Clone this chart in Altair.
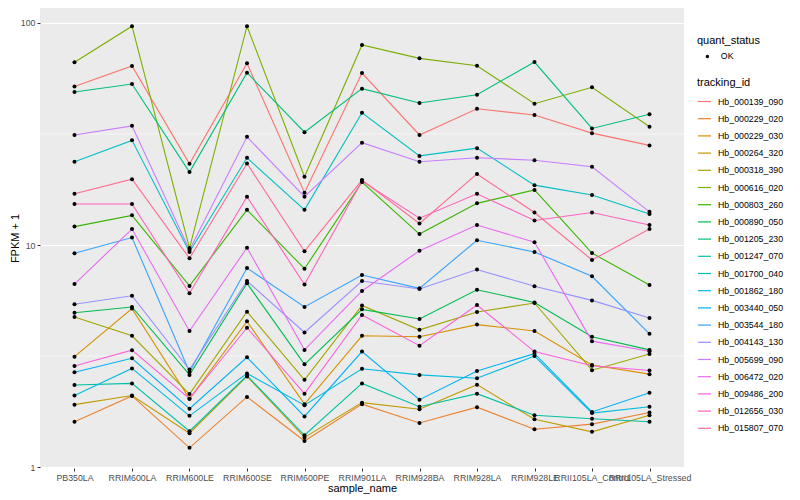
import altair as alt
import pandas as pd

samples = ["PB350LA", "RRIM600LA", "RRIM600LE", "RRIM600SE", "RRIM600PE",
           "RRIM901LA", "RRIM928BA", "RRIM928LA", "RRIM928LE",
           "RRII105LA_Control", "RRII105LA_Stressed"]

tracking_ids = ["Hb_000139_090", "Hb_000229_020", "Hb_000229_030", "Hb_000264_320",
                "Hb_000318_390", "Hb_000616_020", "Hb_000803_260", "Hb_000890_050",
                "Hb_001205_230", "Hb_001247_070", "Hb_001700_040", "Hb_001862_180",
                "Hb_003440_050", "Hb_003544_180", "Hb_004143_130", "Hb_005699_090",
                "Hb_006472_020", "Hb_009486_200", "Hb_012656_030", "Hb_015807_070"]

colors = ["#F8766D", "#EA8331", "#D89000", "#C09B00", "#A3A500", "#7CAE00", "#39B600",
          "#00BB4E", "#00BF7D", "#00C1A3", "#00BFC4", "#00BAE0", "#00B0F6", "#35A2FF",
          "#9590FF", "#C77CFF", "#E76BF3", "#FA62DB", "#FF62BC", "#FF6C91"]

# FPKM + 1 per sample, in the order of `samples`
Hb_000139_090 = [51.7, 64.0, 23.2, 65.8, 17.2, 59.5, 31.3, 41.1, 38.5, 31.9, 28.1]
Hb_000229_020 = [1.60, 2.09, 1.22, 2.07, 1.31, 1.92, 1.58, 1.86, 1.48, 1.56, 1.76]
Hb_000229_030 = [3.14, 5.17, 2.03, 4.53, 1.92, 3.90, 3.86, 4.38, 4.10, 2.88, 2.62]
Hb_000264_320 = [1.91, 2.10, 1.42, 2.56, 1.36, 1.95, 1.82, 2.35, 1.64, 1.44, 1.71]
Hb_000318_390 = [4.74, 3.90, 2.13, 5.01, 2.47, 5.34, 4.15, 4.99, 5.48, 2.73, 3.23]
Hb_000616_020 = [66.5, 96.7, 9.69, 96.7, 20.3, 79.6, 69.3, 64.2, 43.3, 51.3, 34.1]
Hb_000803_260 = [12.1, 13.6, 6.54, 14.4, 7.82, 19.2, 11.2, 15.4, 17.7, 9.20, 6.60]
Hb_000890_050 = [4.95, 5.26, 2.60, 6.72, 2.90, 5.13, 4.64, 6.29, 5.51, 3.86, 3.37]
Hb_001205_230 = [48.9, 53.1, 21.3, 59.7, 32.2, 50.6, 43.6, 47.5, 66.7, 33.5, 38.8]
Hb_001247_070 = [2.34, 2.38, 1.45, 2.58, 1.39, 2.38, 1.87, 2.14, 1.71, 1.65, 1.60]
Hb_001700_040 = [23.7, 29.6, 9.30, 24.7, 14.4, 39.4, 25.2, 27.3, 18.6, 16.8, 13.8]
Hb_001862_180 = [2.10, 2.78, 1.70, 2.64, 1.90, 2.77, 2.60, 2.51, 3.16, 1.75, 1.87]
Hb_003440_050 = [2.67, 3.09, 1.83, 3.12, 1.69, 3.31, 2.01, 2.71, 3.24, 1.77, 2.16]
Hb_003544_180 = [9.18, 10.8, 2.68, 7.88, 5.26, 7.32, 6.38, 10.5, 9.30, 7.23, 3.98]
Hb_004143_130 = [5.41, 5.91, 2.75, 6.88, 4.04, 6.88, 6.34, 7.76, 6.52, 5.63, 4.69]
Hb_005699_090 = [31.3, 34.4, 9.49, 30.7, 16.5, 28.9, 23.7, 24.7, 24.1, 22.5, 14.1]
Hb_006472_020 = [6.67, 11.8, 4.10, 9.72, 3.37, 6.21, 9.43, 12.3, 10.3, 3.69, 3.32]
Hb_009486_200 = [2.85, 3.36, 2.03, 4.24, 2.14, 4.84, 3.52, 5.37, 3.31, 2.86, 2.72]
Hb_012656_030 = [15.3, 15.3, 6.06, 16.5, 6.64, 19.4, 13.2, 17.0, 12.9, 14.0, 12.3]
Hb_015807_070 = [17.0, 19.8, 8.71, 23.3, 9.37, 19.6, 12.5, 20.9, 14.0, 8.56, 11.8]

series = {
    "Hb_000139_090": Hb_000139_090, "Hb_000229_020": Hb_000229_020,
    "Hb_000229_030": Hb_000229_030, "Hb_000264_320": Hb_000264_320,
    "Hb_000318_390": Hb_000318_390, "Hb_000616_020": Hb_000616_020,
    "Hb_000803_260": Hb_000803_260, "Hb_000890_050": Hb_000890_050,
    "Hb_001205_230": Hb_001205_230, "Hb_001247_070": Hb_001247_070,
    "Hb_001700_040": Hb_001700_040, "Hb_001862_180": Hb_001862_180,
    "Hb_003440_050": Hb_003440_050, "Hb_003544_180": Hb_003544_180,
    "Hb_004143_130": Hb_004143_130, "Hb_005699_090": Hb_005699_090,
    "Hb_006472_020": Hb_006472_020, "Hb_009486_200": Hb_009486_200,
    "Hb_012656_030": Hb_012656_030, "Hb_015807_070": Hb_015807_070,
}

y_breaks = [1, 10, 100]
y_minor_breaks = [3.162, 31.62]
y_limits = [0.99, 116.8]

rows = []
for tid in tracking_ids:
    for s, v in zip(samples, series[tid]):
        rows.append({"sample_name": s, "tracking_id": tid, "fpkm1": v, "quant_status": "OK"})
df = pd.DataFrame(rows)
minor_df = pd.DataFrame({"v": y_minor_breaks})

FONT = "Liberation Sans"

x_enc = alt.X("sample_name:N", sort=samples,
              scale=alt.Scale(type="point", padding=0.6),
              axis=alt.Axis(title="sample_name", labelAngle=0, labelOverlap=False,
                            labelPadding=2, titlePadding=1))
y_scale = alt.Scale(type="log", domain=y_limits, nice=False)
y_axis = alt.Axis(title="FPKM + 1", values=y_breaks, format="d",
                  labelPadding=2, titlePadding=0)

minor = alt.Chart(minor_df).mark_rule(color="white", strokeWidth=0.55).encode(
    y=alt.Y("v:Q", scale=y_scale, axis=y_axis)
)

lines = alt.Chart(df).mark_line(strokeWidth=1.1).encode(
    x=x_enc,
    y=alt.Y("fpkm1:Q", scale=y_scale, axis=y_axis),
    color=alt.Color("tracking_id:N",
                    scale=alt.Scale(domain=tracking_ids, range=colors),
                    legend=alt.Legend(title="tracking_id", orient="none",
                                      legendX=657, legendY=69,
                                      symbolType="stroke", symbolSize=169,
                                      symbolStrokeWidth=1.2,
                                      rowPadding=4.2, labelOffset=6,
                                      titlePadding=6)),
    detail="tracking_id:N",
)

points = alt.Chart(df).mark_point(filled=True, size=16, color="black", opacity=1).encode(
    x=x_enc,
    y=alt.Y("fpkm1:Q", scale=y_scale, axis=y_axis),
    shape=alt.Shape("quant_status:N",
                    scale=alt.Scale(domain=["OK"], range=["circle"]),
                    legend=alt.Legend(title="quant_status", orient="none",
                                      legendX=657, legendY=27,
                                      symbolFillColor="black", symbolStrokeColor="black",
                                      symbolSize=12, symbolOffset=6,
                                      labelOffset=9, titlePadding=6)),
)

chart = alt.layer(minor, lines, points).properties(
    width=644, height=460,
    autosize=alt.AutoSizeParams(type="none"),
    padding={"left": 32, "top": 0, "right": 104, "bottom": 30},
).configure_view(
    fill="#EBEBEB", stroke=None
).configure_axis(
    domain=False, tickColor="#333333", tickSize=3, tickWidth=1,
    labelColor="#4D4D4D", labelFontSize=8.8, labelFont=FONT,
    titleFont=FONT, titleFontSize=11, titleFontWeight="normal", titleColor="black",
    gridColor="white", gridWidth=1.07,
).configure_legend(
    labelFont=FONT, labelFontSize=8.8, labelColor="black",
    titleFont=FONT, titleFontSize=11, titleFontWeight="normal", titleColor="black",
    padding=0,
)

chart.save("out.html", embed_options={"renderer": "svg", "actions": False})
